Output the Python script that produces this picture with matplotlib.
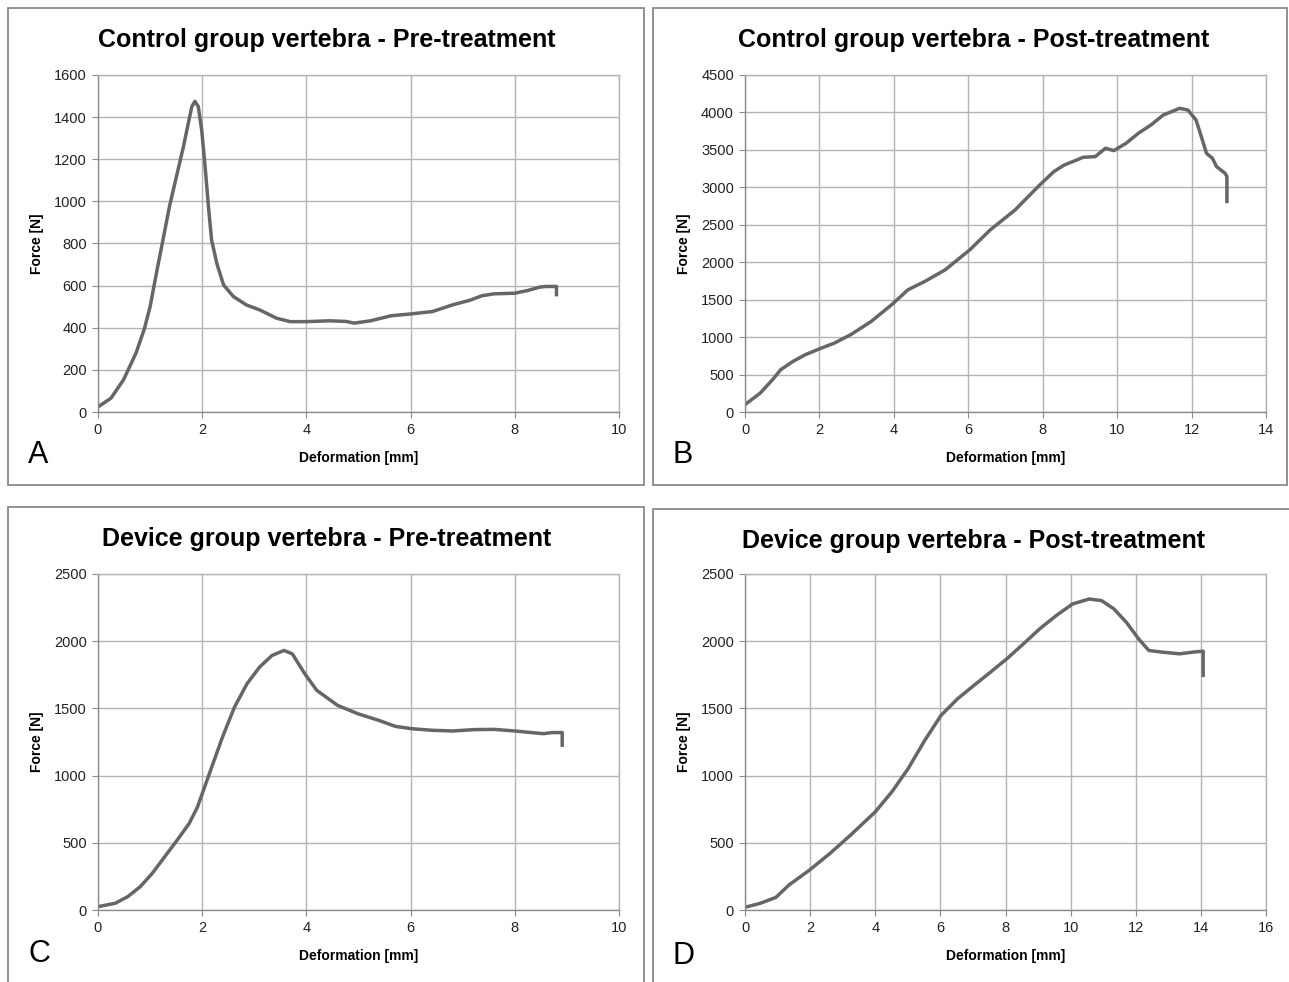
import numpy as np
import matplotlib.pyplot as plt
from matplotlib.patches import Rectangle

# panel A - control pre
a_x = [0, 0.25, 0.49, 0.73, 0.89, 1.0, 1.13, 1.38, 1.64, 1.80, 1.86, 1.925, 1.99, 2.05, 2.12,
       2.18, 2.28, 2.41, 2.60, 2.85, 3.11, 3.43, 3.69, 4.0, 4.44, 4.76, 4.92, 5.23, 5.63, 6.02,
       6.42, 6.81, 7.13, 7.37, 7.60, 8.0, 8.25, 8.48, 8.60, 8.80, 8.80]
a_y = [24, 66, 153, 280, 395, 500, 670, 985, 1260, 1450, 1475, 1450, 1339, 1181, 975,
       817, 706, 603, 548, 508, 484, 445, 429, 429, 433, 430, 422, 433, 457, 466,
       477, 509, 530, 552, 561, 564, 577, 593, 596, 596, 549]

# panel B - control post
b_x = [0, 0.41, 0.74, 0.96, 1.29, 1.62, 2.01, 2.40, 2.84, 3.39, 3.94, 4.38, 4.83, 5.38,
       6.04, 6.59, 7.26, 7.92, 8.30, 8.58, 8.92, 9.08, 9.41, 9.69, 9.91, 10.24, 10.57,
       10.91, 11.24, 11.68, 11.90, 12.12, 12.29, 12.40, 12.56, 12.67, 12.90, 12.95, 12.95]
b_y = [98, 253, 431, 565, 676, 765, 845, 920, 1032, 1209, 1432, 1632, 1743, 1899,
       2165, 2432, 2699, 3032, 3210, 3299, 3366, 3401, 3410, 3522, 3490, 3588, 3722,
       3833, 3966, 4055, 4033, 3900, 3633, 3455, 3388, 3277, 3188, 3144, 2788]

# panel C - device pre
c_x = [0, 0.33, 0.57, 0.81, 1.04, 1.28, 1.52, 1.75, 1.91, 2.07, 2.23, 2.39, 2.62, 2.86,
       3.10, 3.34, 3.57, 3.73, 3.97, 4.20, 4.60, 4.99, 5.39, 5.71, 6.02, 6.42, 6.81,
       7.21, 7.60, 8.0, 8.40, 8.55, 8.71, 8.91, 8.91]
c_y = [25, 50, 99, 173, 272, 396, 520, 644, 767, 941, 1114, 1287, 1510, 1683,
       1807, 1894, 1931, 1906, 1757, 1634, 1522, 1460, 1411, 1366, 1349, 1337, 1332,
       1342, 1344, 1332, 1317, 1312, 1320, 1320, 1213]

# panel D - device post
d_x = [0, 0.47, 0.95, 1.35, 1.98, 2.61, 3.24, 4.0, 4.51, 5.01, 5.52, 6.02, 6.53, 7.03,
       7.54, 8.04, 8.55, 9.05, 9.56, 10.06, 10.57, 10.95, 11.33, 11.71, 12.09, 12.40,
       12.84, 13.35, 13.73, 14.07, 14.07]
d_y = [20, 50, 94, 186, 297, 421, 557, 730, 879, 1052, 1262, 1448, 1572, 1671,
       1770, 1869, 1980, 2092, 2191, 2277, 2314, 2302, 2240, 2141, 2017, 1931,
       1918, 1906, 1918, 1926, 1733]

titles = ["Control group vertebra - Pre-treatment", "Control group vertebra - Post-treatment",
          "Device group vertebra - Pre-treatment", "Device group vertebra - Post-treatment"]
letters = ["A", "B", "C", "D"]
xmax = [10, 14, 10, 16]
ymax = [1600, 4500, 2500, 2500]
ystep = [200, 500, 500, 500]

W, H = 1289, 982
fig = plt.figure(figsize=(W / 100, H / 100), dpi=100)
plt.rcParams['font.family'] = ['Liberation Sans', 'DejaVu Sans']

# pixel boxes: axes left, right, top, bottom ; frame left, top, right, bottom
ax_px = [(98, 619, 75, 412), (745, 1266, 75, 412), (98, 619, 574, 910), (745, 1266, 574, 910)]
frame_px = [(8, 8, 644, 485), (653, 8, 1287, 485), (8, 507, 644, 1000), (653, 509, 1300, 1000)]

data = [(a_x, a_y), (b_x, b_y), (c_x, c_y), (d_x, d_y)]

for i in range(4):
    fx0, fy0, fx1, fy1 = frame_px[i]
    fig.patches.append(Rectangle((fx0 / W, 1 - fy1 / H), (fx1 - fx0) / W, (fy1 - fy0) / H,
                                 transform=fig.transFigure, fill=False,
                                 edgecolor="#7f7f7f", linewidth=1.2))
    l, r, t, b = ax_px[i]
    ax = fig.add_axes([l / W, 1 - b / H, (r - l) / W, (b - t) / H])
    x, y = data[i]
    ax.plot(x, y, color="#666666", linewidth=2.5, solid_joinstyle="round", solid_capstyle="butt")
    ax.set_xlim(0, xmax[i])
    ax.set_ylim(0, ymax[i])
    ax.set_xticks(np.arange(0, xmax[i] + 1, 2))
    ax.set_yticks(np.arange(0, ymax[i] + 1, ystep[i]))
    ax.grid(True, color="#b3b3b3", linewidth=1)
    ax.set_axisbelow(True)
    for s in ax.spines.values():
        s.set_color("#b3b3b3")
        s.set_linewidth(1)
    ax.spines["left"].set_color("#8c8c8c")
    ax.spines["bottom"].set_color("#8c8c8c")
    ax.tick_params(length=4, color="#8c8c8c", labelsize=10.5, pad=4, labelcolor="#222222")
    ax.set_xlabel("Deformation [mm]", fontsize=10, fontweight="bold", labelpad=10)
    ax.set_ylabel("Force [N]", fontsize=10, fontweight="bold", labelpad=7)
    fig.text((l + r) / 2 / W - 0.025, 1 - (fy0 + 32) / H, titles[i], ha="center", va="center",
             fontsize=18, fontweight="bold")
    fig.text((fx0 + 20) / W, 1 - (fy0 + 447) / H, letters[i], ha="left", va="center",
             fontsize=22)

fig.savefig("out.png", dpi=100)
